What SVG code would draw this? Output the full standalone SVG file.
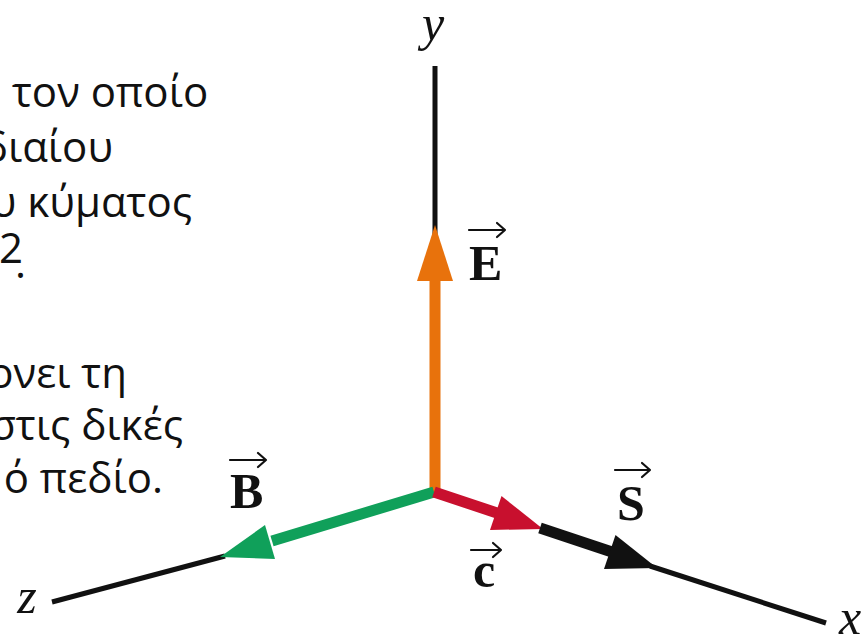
<svg xmlns="http://www.w3.org/2000/svg" width="863" height="639" viewBox="0 0 863 639">
<style>
.t{font-family:"Open Sans","Noto Sans",sans-serif;font-size:42px;fill:#111}
.ax{font-family:"Liberation Serif",serif;font-style:italic;font-size:50px;fill:#111}
.v{font-family:"Liberation Serif",serif;font-weight:bold;font-size:50px;fill:#111}
.ov{fill:none;stroke:#111;stroke-width:2.2;stroke-linecap:round;stroke-linejoin:round}
.axis{stroke:#111;stroke-width:5;fill:none}
</style>
<rect width="863" height="639" fill="#fff"/>
<g id="text">
<text class="t" x="12" y="107">τον οποίο</text>
<text class="t" x="113" y="162" text-anchor="end">διαίου</text>
<text class="t" x="192" y="217" text-anchor="end">υ κύματος</text>
<text class="t" x="-1" y="263" font-size="28">2</text>
<text class="t" x="15" y="278">.</text>
<text class="t" x="127" y="388" text-anchor="end">ονει τη</text>
<text class="t" x="183" y="440" text-anchor="end">στις δικές</text>
<text class="t" x="163" y="493" text-anchor="end">ό πεδίο.</text>
</g>
<g id="connectors">
<line class="axis" x1="435" y1="66" x2="435" y2="240"/>
<line class="axis" x1="52" y1="602" x2="225" y2="556"/>
<line class="axis" x1="650" y1="566" x2="826" y2="623"/>
</g>
<g id="vector-E">
<line x1="435" y1="492" x2="435" y2="272" stroke="#e8720c" stroke-width="11"/>
<polygon points="435,225 453,281 417,281" fill="#e8720c"/>
</g>
<g id="vector-B">
<line x1="434" y1="492" x2="272" y2="541" stroke="#10a05a" stroke-width="11"/>
<polygon points="220,557 275,559 265,525" fill="#10a05a"/>
</g>
<g id="vector-c">
<line x1="434" y1="492" x2="500" y2="514" stroke="#c8102e" stroke-width="11"/>
<polygon points="543,529 501.5,496 490,530" fill="#c8102e"/>
</g>
<g id="vector-S">
<line x1="540" y1="528" x2="612" y2="552" stroke="#111" stroke-width="11"/>
<polygon points="657,568 615.5,535 604,569" fill="#111"/>
</g>
<g id="label-y"><text class="ax" x="433" y="40" text-anchor="middle">y</text></g>
<g id="label-z"><text class="ax" x="27" y="613" text-anchor="middle">z</text></g>
<g id="label-x"><text class="ax" x="850" y="634" text-anchor="middle">x</text></g>
<g id="label-E">
<text class="v" x="469" y="280">E</text>
<path class="ov" d="M469,230 H505 M497,223 L505,230 L497,237"/>
</g>
<g id="label-B">
<text class="v" x="230" y="508">B</text>
<path class="ov" d="M230,460 H266 M258,453 L266,460 L258,467"/>
</g>
<g id="label-S">
<text class="v" x="617" y="520">S</text>
<path class="ov" d="M615,470 H650 M642,463 L650,470 L642,477"/>
</g>
<g id="label-c">
<text class="v" x="473" y="587" font-size="52">c</text>
<path class="ov" d="M471,550 H501 M493,543 L501,550 L493,557"/>
</g>
</svg>
